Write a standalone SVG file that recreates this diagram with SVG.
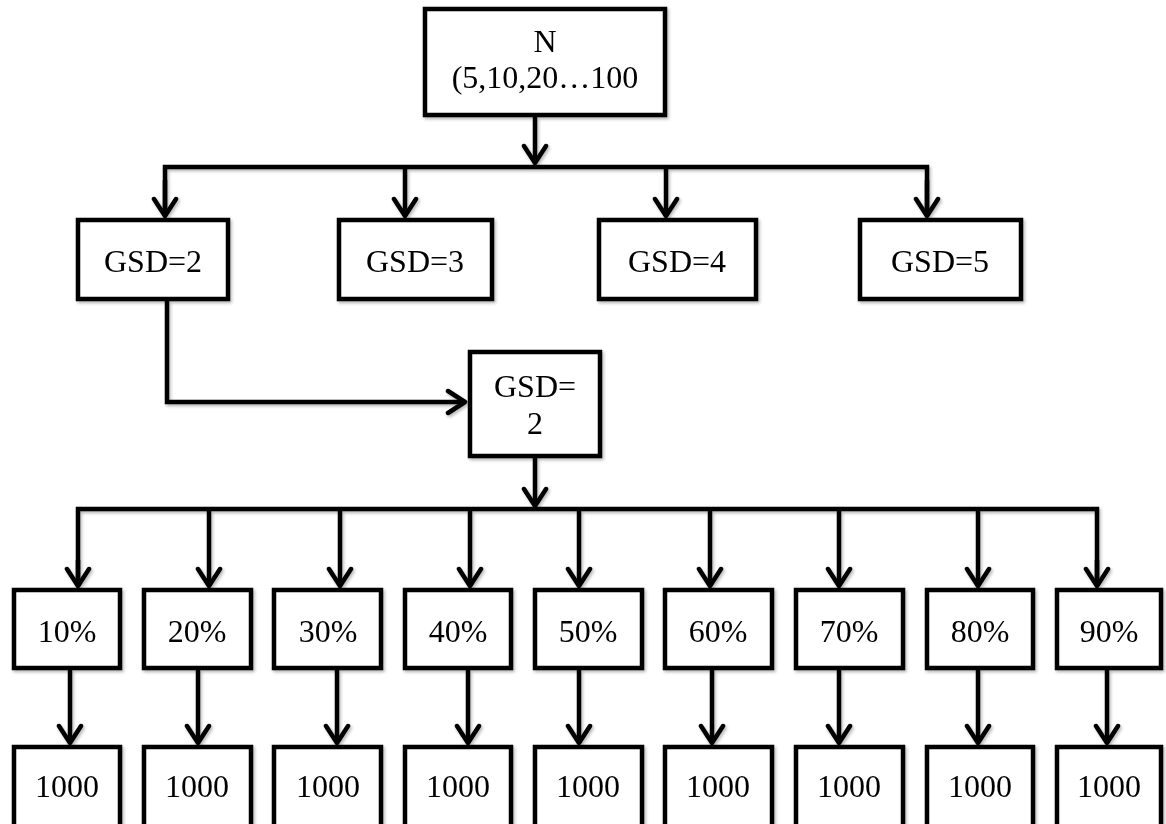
<svg xmlns="http://www.w3.org/2000/svg" width="1166" height="824" viewBox="0 0 1166 824">
<defs>
<style>
.box{fill:#fff;stroke:#000;stroke-width:4.5}
.t{font-family:"Liberation Serif","Times New Roman",serif;font-size:32px;text-anchor:middle;fill:#000}
.c{fill:none;stroke:#000;stroke-width:4.5;stroke-linejoin:miter}
</style>
<filter id="sh" x="-10%" y="-10%" width="130%" height="130%">
<feDropShadow dx="1.5" dy="2" stdDeviation="1.8" flood-color="#000" flood-opacity="0.28"/>
</filter>
<marker id="ah" viewBox="-22 -14 26 28" refX="0" refY="0" markerWidth="26" markerHeight="28" markerUnits="userSpaceOnUse" orient="auto">
<path d="M-17,-11 L0,0 L-17,11" fill="none" stroke="#000" stroke-width="4.5" stroke-linecap="round" stroke-linejoin="round"/>
</marker>
</defs>
<rect width="1166" height="824" fill="#fff"/>
<g id="connectors" filter="url(#sh)">
<path class="c" d="M535,117 V163" marker-end="url(#ah)"/>
<path class="c" d="M165,216 V167 H927 V216" />
<path class="c" d="M165,180 V216" marker-end="url(#ah)"/>
<path class="c" d="M405,167 V216" marker-end="url(#ah)"/>
<path class="c" d="M666,167 V216" marker-end="url(#ah)"/>
<path class="c" d="M927,180 V216" marker-end="url(#ah)"/>
<path class="c" d="M167,301 V402 H465" marker-end="url(#ah)"/>
<path class="c" d="M535,458 V506" marker-end="url(#ah)"/>
<path class="c" d="M78,586 V509 H1097 V586"/>
<path class="c" d="M78,560 V586" marker-end="url(#ah)"/>
<path class="c" d="M209,509 V586" marker-end="url(#ah)"/>
<path class="c" d="M340,509 V586" marker-end="url(#ah)"/>
<path class="c" d="M470,509 V586" marker-end="url(#ah)"/>
<path class="c" d="M579,509 V586" marker-end="url(#ah)"/>
<path class="c" d="M710,509 V586" marker-end="url(#ah)"/>
<path class="c" d="M839,509 V586" marker-end="url(#ah)"/>
<path class="c" d="M978,509 V586" marker-end="url(#ah)"/>
<path class="c" d="M1097,560 V586" marker-end="url(#ah)"/>
<path class="c" d="M70,670 V743" marker-end="url(#ah)"/>
<path class="c" d="M198,670 V743" marker-end="url(#ah)"/>
<path class="c" d="M337,670 V743" marker-end="url(#ah)"/>
<path class="c" d="M468,670 V743" marker-end="url(#ah)"/>
<path class="c" d="M579,670 V743" marker-end="url(#ah)"/>
<path class="c" d="M712,670 V743" marker-end="url(#ah)"/>
<path class="c" d="M839,670 V743" marker-end="url(#ah)"/>
<path class="c" d="M978,670 V743" marker-end="url(#ah)"/>
<path class="c" d="M1107,670 V743" marker-end="url(#ah)"/>
</g>
<g id="n-root" filter="url(#sh)"><rect class="box" x="425" y="9" width="240" height="106"/><text class="t" x="545" y="52">N</text><text class="t" x="545" y="88">(5,10,20…100</text></g>
<g id="n-gsd2" filter="url(#sh)"><rect class="box" x="78" y="220" width="150" height="79"/><text class="t" x="153" y="272">GSD=2</text></g>
<g id="n-gsd3" filter="url(#sh)"><rect class="box" x="339" y="220" width="153" height="79"/><text class="t" x="415" y="272">GSD=3</text></g>
<g id="n-gsd4" filter="url(#sh)"><rect class="box" x="599" y="220" width="157" height="79"/><text class="t" x="677" y="272">GSD=4</text></g>
<g id="n-gsd5" filter="url(#sh)"><rect class="box" x="860" y="220" width="161" height="79"/><text class="t" x="940" y="272">GSD=5</text></g>
<g id="n-gsd2b" filter="url(#sh)"><rect class="box" x="470" y="352" width="130" height="104"/><text class="t" x="535" y="397">GSD=</text><text class="t" x="535" y="434">2</text></g>
<g id="n-p10" filter="url(#sh)"><rect class="box" x="14" y="590" width="106" height="78"/><text class="t" x="67" y="642">10%</text></g>
<g id="n-p20" filter="url(#sh)"><rect class="box" x="144" y="590" width="107" height="78"/><text class="t" x="197" y="642">20%</text></g>
<g id="n-p30" filter="url(#sh)"><rect class="box" x="274" y="590" width="107" height="78"/><text class="t" x="328" y="642">30%</text></g>
<g id="n-p40" filter="url(#sh)"><rect class="box" x="405" y="590" width="106" height="78"/><text class="t" x="458" y="642">40%</text></g>
<g id="n-p50" filter="url(#sh)"><rect class="box" x="535" y="590" width="107" height="78"/><text class="t" x="588" y="642">50%</text></g>
<g id="n-p60" filter="url(#sh)"><rect class="box" x="665" y="590" width="107" height="78"/><text class="t" x="718" y="642">60%</text></g>
<g id="n-p70" filter="url(#sh)"><rect class="box" x="796" y="590" width="107" height="78"/><text class="t" x="849" y="642">70%</text></g>
<g id="n-p80" filter="url(#sh)"><rect class="box" x="927" y="590" width="106" height="78"/><text class="t" x="980" y="642">80%</text></g>
<g id="n-p90" filter="url(#sh)"><rect class="box" x="1057" y="590" width="104" height="78"/><text class="t" x="1109" y="642">90%</text></g>
<g id="n-k10" filter="url(#sh)"><rect class="box" x="14" y="747" width="106" height="90"/><text class="t" x="67" y="797">1000</text></g>
<g id="n-k20" filter="url(#sh)"><rect class="box" x="144" y="747" width="107" height="90"/><text class="t" x="197" y="797">1000</text></g>
<g id="n-k30" filter="url(#sh)"><rect class="box" x="274" y="747" width="107" height="90"/><text class="t" x="328" y="797">1000</text></g>
<g id="n-k40" filter="url(#sh)"><rect class="box" x="405" y="747" width="106" height="90"/><text class="t" x="458" y="797">1000</text></g>
<g id="n-k50" filter="url(#sh)"><rect class="box" x="535" y="747" width="107" height="90"/><text class="t" x="588" y="797">1000</text></g>
<g id="n-k60" filter="url(#sh)"><rect class="box" x="665" y="747" width="107" height="90"/><text class="t" x="718" y="797">1000</text></g>
<g id="n-k70" filter="url(#sh)"><rect class="box" x="796" y="747" width="107" height="90"/><text class="t" x="849" y="797">1000</text></g>
<g id="n-k80" filter="url(#sh)"><rect class="box" x="927" y="747" width="106" height="90"/><text class="t" x="980" y="797">1000</text></g>
<g id="n-k90" filter="url(#sh)"><rect class="box" x="1057" y="747" width="104" height="90"/><text class="t" x="1109" y="797">1000</text></g>
</svg>
